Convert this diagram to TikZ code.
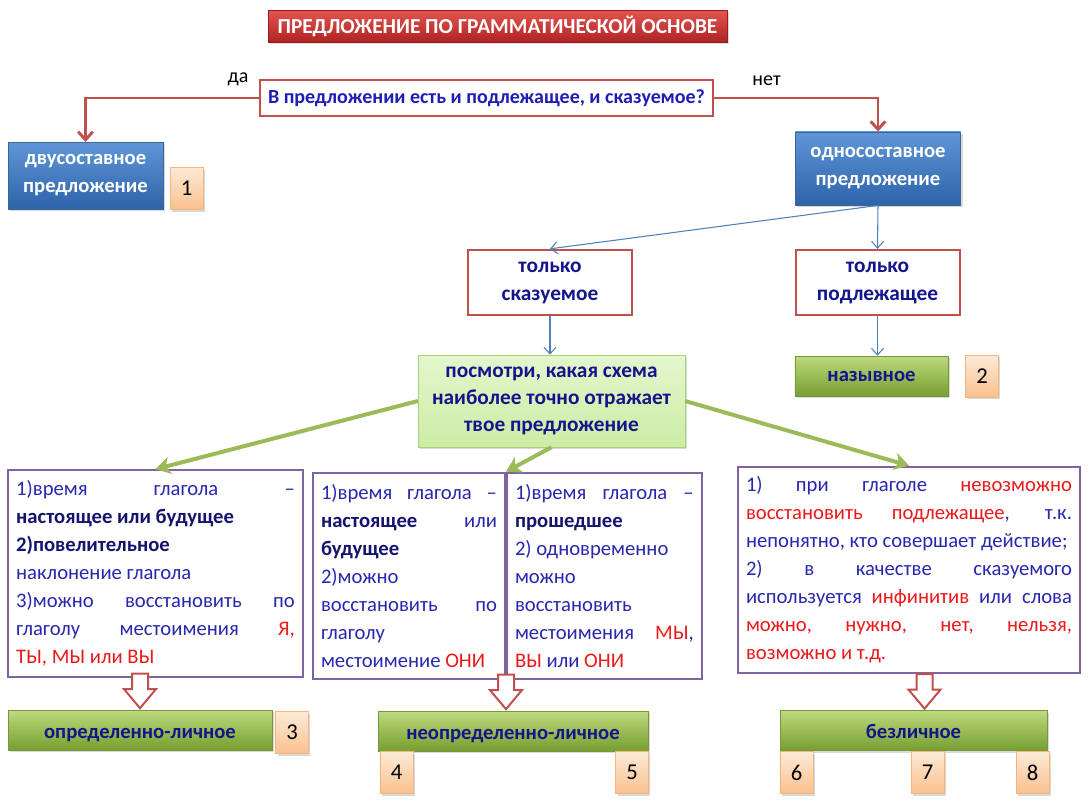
\documentclass[tikz,border=0pt]{standalone}
\usepackage{fontspec}
\setmainfont{Carlito}
\usetikzlibrary{arrows.meta,shapes.arrows,shadows,calc}

\definecolor{redline}{RGB}{192,80,77}
\definecolor{blueline}{RGB}{79,129,189}
\definecolor{greenline}{RGB}{155,187,89}
\definecolor{violet}{RGB}{128,100,162}
\definecolor{ink}{RGB}{40,40,175}
\definecolor{inkdark}{RGB}{20,20,110}
\definecolor{navy}{RGB}{20,20,140}
\definecolor{txtred}{RGB}{235,25,25}

\newcommand\bb[1]{{\bfseries\color{inkdark}#1}}
\newcommand\rd[1]{\textcolor{txtred}{#1}}

\begin{document}
\begin{tikzpicture}[x=0.75pt,y=-0.75pt,
  shade/.style={drop shadow={shadow xshift=1.5pt,shadow yshift=-1.5pt,opacity=.3}},
  titlebox/.style={shade,draw={rgb,255:red,150;green,30;blue,30},top color={rgb,255:red,228;green,85;blue,80},
    bottom color={rgb,255:red,175;green,35;blue,35},text=white,font=\bfseries\fontsize{16}{18}\selectfont,
    minimum width=344pt,minimum height=24pt},
  question/.style={draw=redline,line width=1.5pt,fill=white,text={rgb,255:red,30;green,30;blue,180},
    font=\bfseries\fontsize{15}{18}\selectfont,minimum width=340pt,minimum height=27pt},
  bluebox/.style={shade,draw={rgb,255:red,60;green,100;blue,155},top color={rgb,255:red,95;green,150;blue,215},
    bottom color={rgb,255:red,45;green,100;blue,170},text=white,align=center,
    font=\bfseries\fontsize{15.5}{21}\selectfont},
  redbox/.style={draw=redline,line width=1.5pt,fill=white,text=navy,align=center,
    font=\bfseries\fontsize{16}{21}\selectfont,minimum width=123pt,minimum height=49pt},
  greenbar/.style={shade,draw={rgb,255:red,120;green,150;blue,60},top color={rgb,255:red,190;green,218;blue,125},
    bottom color={rgb,255:red,118;green,158;blue,48},text=navy,font=\bfseries\fontsize{15.5}{18}\selectfont,
    minimum height=30pt},
  low/.style={text height=12pt,text depth=0pt},
  lookbox/.style={shade,draw={rgb,255:red,170;green,210;blue,120},top color={rgb,255:red,228;green,246;blue,205},
    bottom color={rgb,255:red,205;green,236;blue,165},text=navy,align=center,
    font=\bfseries\fontsize{16}{20}\selectfont,minimum width=200pt,minimum height=69pt},
  num/.style={shade,draw={rgb,255:red,245;green,180;blue,125},top color={rgb,255:red,253;green,234;blue,215},
    bottom color={rgb,255:red,250;green,192;blue,143},font=\fontsize{17}{19}\selectfont,
    minimum width=24.5pt,minimum height=31.5pt,inner sep=0pt},
  rule/.style={draw=violet,line width=1.5pt,fill=white,text=ink,align=justify,inner xsep=6pt,
    font=\fontsize{15.5}{21}\selectfont,minimum height=155pt},
  hollow/.style={single arrow,draw=redline,line width=1.5pt,fill=white,rotate=-90,inner xsep=0pt,
    inner ysep=5.25pt,single arrow head extend=6pt,single arrow tip angle=80,minimum height=26pt},
  redconn/.style={draw=redline,line width=2.2pt,-{Straight Barb[length=6pt,width=11pt]}},
  blueconn/.style={draw=blueline,line width=.8pt,-{Straight Barb[length=5pt,width=9pt]}},
  greenconn/.style={draw=greenline,line width=3pt,-{Stealth[length=11pt,width=13pt,inset=3pt]}},
  answer/.style={font=\fontsize{15}{18}\selectfont}]

\useasboundingbox (0,0) rectangle (1090,803);

% top of the scheme
\node[titlebox] (title) at (497.5,26) {ПРЕДЛОЖЕНИЕ ПО ГРАММАТИЧЕСКОЙ ОСНОВЕ};
\node[question] (q)     at (486.5,98) {В предложении есть и подлежащее, и сказуемое?};
\node[bluebox,minimum width=116pt,minimum height=50pt] (two) at (85.5,175.5) {двусоставное\\предложение};
\node[num]              (n1)  at (186.5,188.5) {1};
\node[bluebox,minimum width=124pt,minimum height=55pt] (one) at (878,168.5) {односоставное\\предложение};

\draw[redconn] (q.west) -| node[answer,pos=.06,above=5pt] {да}  (two.north);
\draw[redconn] (q.east) -| node[answer,pos=.16,above=5pt] {нет} (one.north);

% one-member sentence
\node[redbox]   (pred) at (550,282.5)   {только\\сказуемое};
\node[redbox]   (subj) at (877.5,282.5) {только\\подлежащее};
\node[greenbar,minimum width=115pt] (naz) at (871.5,376) {назывное};
\node[num]      (n2)   at (982,376)     {2};
\node[lookbox]  (look) at (551.5,401)   {посмотри, какая схема\\наиболее точно отражает\\твое предложение};

\path (one.south)  edge[blueconn] (pred.north)
      (one.south)  edge[blueconn] (subj.north)
      (pred.south) edge[blueconn] (pred.south |- look.north)
      (subj.south) edge[blueconn] (subj.south |- naz.north);

% the three schemes
\node[rule,text width=209pt] (lbox) at (155.5,573.5) {%
1)время глагола –\linebreak
\bb{настоящее или будущее}\\
\bb{2)повелительное}\\
наклонение глагола\\
3)можно восстановить по\linebreak
глаголу местоимения \rd{Я,}\linebreak
\rd{ТЫ, МЫ или ВЫ}};
\node[rule,text width=132pt] (mlbox) at (409,576) {%
1)время глагола –\linebreak
\bb{настоящее} или\linebreak
\bb{будущее}\\
2)можно\\
восстановить по\linebreak
глаголу\\
местоимение \rd{ОНИ}};
\node[rule,text width=134pt,anchor=west] (mrbox) at (mlbox.east) {%
1)время глагола –\linebreak
\bb{прошедшее}\\
2) одновременно\\
можно\\
восстановить\\
местоимения \rd{МЫ},\linebreak
\rd{ВЫ} или \rd{ОНИ}};
\node[rule,text width=244.5pt] (rbox) at (909,570) {%
1) при глаголе \rd{невозможно}\linebreak
\rd{восстановить подлежащее}, т.к.\linebreak
непонятно, кто совершает действие;\\
2) в качестве сказуемого\linebreak
используется \rd{инфинитив} или слова\linebreak
\rd{можно, нужно, нет, нельзя,}\linebreak
\rd{возможно и т.д.}};

\path (look.west)  edge[greenconn] (lbox.north)
      (look.south) edge[greenconn] (mlbox.north east)
      (look.east)  edge[greenconn] (rbox.north);

% results
\node[greenbar,low,minimum width=198pt]   (opl)  at (140,730)   {определенно-личное};
\node[greenbar,low,minimum width=202.5pt] (nopl) at (513,731)   {неопределенно-личное};
\node[greenbar,low,minimum width=200pt]   (bez)  at (913.5,730.5) {безличное};
\node[num] (n3) at (292,732.5)    {3};
\node[num] (n4) at (396.5,772.5)  {4};
\node[num] (n5) at (632,772.5)    {5};
\node[num] (n6) at (796.5,772.5)  {6};
\node[num] (n7) at (927.5,772.5)  {7};
\node[num] (n8) at (1032.5,772.5) {8};

\node[hollow,anchor=tip] at (opl.north) {};
\node[hollow,anchor=tip] at (mlbox.south east |- nopl.north) {};
\node[hollow,anchor=tip] at ($(bez.north)+(11,0)$) {};
\end{tikzpicture}
\end{document}
